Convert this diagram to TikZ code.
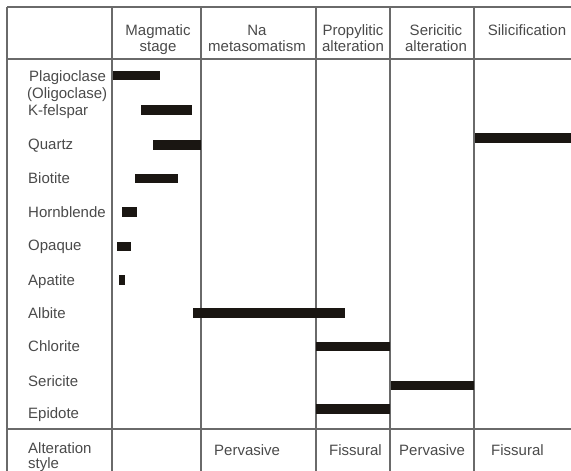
\documentclass[tikz,border=0pt]{standalone}
\usepackage{fontspec}
\setmainfont{Liberation Sans}
\definecolor{txtgray}{HTML}{4A4A4A}
\definecolor{linegray}{HTML}{6A6A6A}
\definecolor{barblack}{HTML}{1A1612}
\tikzset{
  grid/.style={draw=linegray, line width=1.3pt},
  bar/.style={fill=barblack, draw=none},
  lbl/.style={anchor=base west, inner sep=0pt, text=txtgray, font=\fontsize{15}{17}\selectfont},
  hdr/.style={anchor=base, inner sep=0pt, text=txtgray, font=\fontsize{15}{17}\selectfont},
}
\begin{document}
\begin{tikzpicture}[x=1pt,y=-1pt]
\useasboundingbox (0,0) rectangle (571,471);
% grid lines
\foreach \x in {7,112,201,316,390,474} \draw[grid] (\x,7) -- (\x,471);
\foreach \y in {7,59,429} \draw[grid] (7,\y) -- (571,\y);
% header
\node[hdr] (h1a) at (158,35) {Magmatic};
\node[hdr] (h1b) at (158,51) {stage};
\node[hdr] (h2a) at (257,35) {Na};
\node[hdr] (h2b) at (257,51) {metasomatism};
\node[hdr] (h3a) at (353,35) {Propylitic};
\node[hdr] (h3b) at (353,51) {alteration};
\node[hdr] (h4a) at (436,35) {Sericitic};
\node[hdr] (h4b) at (436,51) {alteration};
\node[hdr] (h5a) at (527,35) {Silicification};
% row labels
\node[lbl] (plag) at (29,81) {Plagioclase};
\node[lbl] (olig) at (27,98) {(Oligoclase)};
\node[lbl] (kfel) at (28,115) {K-felspar};
\node[lbl] (qtz) at (28,149) {Quartz};
\node[lbl] (bio) at (28,183) {Biotite};
\node[lbl] (hbl) at (28,217) {Hornblende};
\node[lbl] (opq) at (28,250) {Opaque};
\node[lbl] (apa) at (28,285) {Apatite};
\node[lbl] (alb) at (28,318) {Albite};
\node[lbl] (chl) at (28,351) {Chlorite};
\node[lbl] (ser) at (28,386) {Sericite};
\node[lbl] (epi) at (28,418) {Epidote};
\node[lbl] (alt1) at (28,453) {Alteration};
\node[lbl] (alt2) at (28,468) {style};
% bottom row
\node[lbl] (s1) at (214,455) {Pervasive};
\node[lbl] (s2) at (329,455) {Fissural};
\node[lbl] (s3) at (399,455) {Pervasive};
\node[lbl] (s4) at (491,455) {Fissural};
% bars
\fill[bar] (113,71) rectangle (160,80);
\fill[bar] (141,105) rectangle (192,115);
\fill[bar] (153,140) rectangle (201,150);
\fill[bar] (475,133) rectangle (571,143);
\fill[bar] (135,174) rectangle (178,183);
\fill[bar] (122,207) rectangle (137,217);
\fill[bar] (117,242) rectangle (131,251);
\fill[bar] (119,275) rectangle (125,285);
\fill[bar] (193,308) rectangle (345,318);
\fill[bar] (316,342) rectangle (390,351);
\fill[bar] (391,381) rectangle (474,390);
\fill[bar] (316,404) rectangle (390,414);
\end{tikzpicture}
\end{document}
